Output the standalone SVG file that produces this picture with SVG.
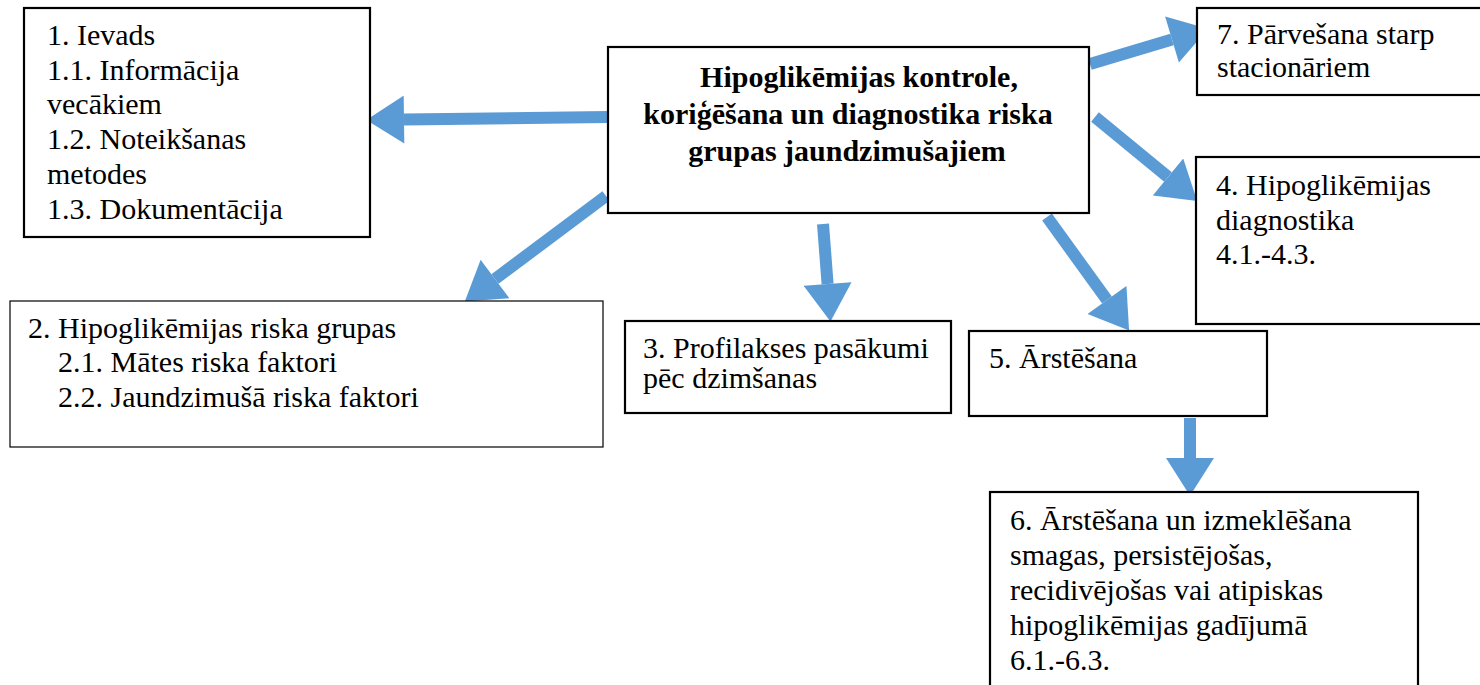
<svg xmlns="http://www.w3.org/2000/svg" width="1480" height="685" viewBox="0 0 1480 685">
<style>
  .box { fill: #ffffff; stroke: #000000; stroke-width: 2.2; }
  .thin { fill: #ffffff; stroke: #000000; stroke-width: 1.2; }
  .t { font-family: "Liberation Serif", "Times New Roman", serif; font-size: 30px; fill: #000000; }
  .b { font-family: "Liberation Serif", "Times New Roman", serif; font-size: 30px; font-weight: bold; fill: #000000; text-anchor: middle; }
  .arrow { stroke: #5B9BD5; stroke-width: 12; fill: none; marker-end: url(#head); }
</style>
<defs>
  <marker id="head" markerUnits="userSpaceOnUse" markerWidth="40" markerHeight="48" refX="0" refY="21" orient="auto" viewBox="0 0 34 42">
    <path d="M0,0 L33,21 L0,42 z" fill="#5B9BD5"/>
  </marker>
</defs>
<rect width="1480" height="685" fill="#ffffff"/>

<g id="connectors">
  <line class="arrow" x1="608" y1="117" x2="404" y2="119.6"/>
  <line class="arrow" x1="606" y1="196" x2="495" y2="279"/>
  <line class="arrow" x1="823" y1="224" x2="827.6" y2="284"/>
  <line class="arrow" x1="1047" y1="217" x2="1107" y2="300"/>
  <line class="arrow" x1="1095" y1="117" x2="1168" y2="177"/>
  <line class="arrow" x1="1090" y1="64" x2="1172" y2="39.5"/>
  <line class="arrow" x1="1190" y1="418" x2="1190" y2="458"/>
</g>

<g id="node1">
  <rect class="box" x="24" y="8" width="346" height="229"/>
  <text class="t" x="47" y="45">1. Ievads</text>
  <text class="t" x="47" y="80">1.1. Informācija</text>
  <text class="t" x="47" y="114">vecākiem</text>
  <text class="t" x="47" y="149">1.2. Noteikšanas</text>
  <text class="t" x="47" y="184">metodes</text>
  <text class="t" x="47" y="219">1.3. Dokumentācija</text>
</g>

<g id="center">
  <rect class="box" x="608" y="47" width="481" height="166" stroke-width="2.6"/>
  <text class="b" x="859" y="87">Hipoglikēmijas kontrole,</text>
  <text class="b" x="848" y="124">koriģēšana un diagnostika riska</text>
  <text class="b" x="847" y="161">grupas jaundzimušajiem</text>
</g>

<g id="node7">
  <rect class="box" x="1197" y="8" width="300" height="87"/>
  <text class="t" x="1217" y="44">7. Pārvešana starp</text>
  <text class="t" x="1217" y="77">stacionāriem</text>
</g>

<g id="node4">
  <rect class="box" x="1196" y="157" width="300" height="167"/>
  <text class="t" x="1216" y="195">4. Hipoglikēmijas</text>
  <text class="t" x="1216" y="230">diagnostika</text>
  <text class="t" x="1216" y="264">4.1.-4.3.</text>
</g>

<g id="node2">
  <rect class="thin" x="10" y="301" width="593" height="146"/>
  <text class="t" x="28" y="338">2. Hipoglikēmijas riska grupas</text>
  <text class="t" x="58" y="372">2.1. Mātes riska faktori</text>
  <text class="t" x="58" y="407">2.2. Jaundzimušā riska faktori</text>
</g>

<g id="node3">
  <rect class="box" x="625" y="321" width="326" height="92"/>
  <text class="t" x="643" y="358">3. Profilakses pasākumi</text>
  <text class="t" x="643" y="388">pēc dzimšanas</text>
</g>

<g id="node5">
  <rect class="box" x="969" y="331" width="298" height="85"/>
  <text class="t" x="989" y="368">5. Ārstēšana</text>
</g>

<g id="node6">
  <rect class="box" x="990" y="492" width="428" height="210"/>
  <text class="t" x="1010" y="530">6. Ārstēšana un izmeklēšana</text>
  <text class="t" x="1010" y="565">smagas, persistējošas,</text>
  <text class="t" x="1010" y="600">recidivējošas vai atipiskas</text>
  <text class="t" x="1010" y="635">hipoglikēmijas gadījumā</text>
  <text class="t" x="1010" y="670">6.1.-6.3.</text>
</g>
</svg>
